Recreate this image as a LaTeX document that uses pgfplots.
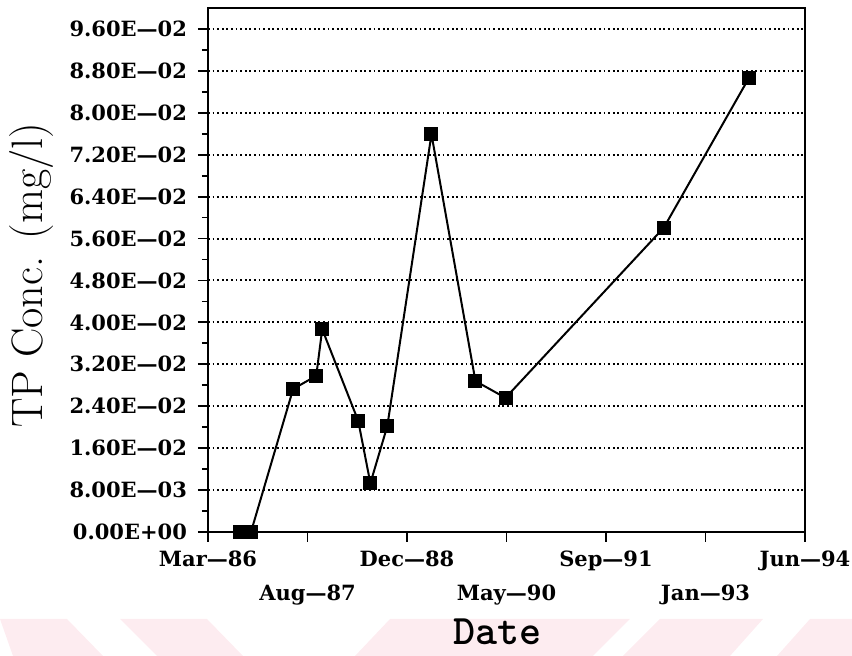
\documentclass[border=0pt]{standalone}
\usepackage{pgfplots}
\pgfplotsset{compat=1.18}
\usepackage{fontspec}
\newfontfamily\tickfont{DejaVu Serif}
\definecolor{bandpink}{RGB}{253,236,240}

% TP concentration; x = days after the Mar-86 axis origin
\begin{document}
\begin{tikzpicture}
% faint striped band along the foot of the figure
\fill[bandpink] (-104pt,-43.5pt) -- (-70.5pt,-43.5pt) -- (-52.5pt,-62pt) -- (-97.5pt,-62pt) -- cycle;
\fill[bandpink] (-44pt,-43.5pt) -- (-0.5pt,-43.5pt) -- (17.5pt,-62pt) -- (-25.5pt,-62pt) -- cycle;
\fill[bandpink] (91pt,-43.5pt) -- (211pt,-43.5pt) -- (192.5pt,-62pt) -- (73.5pt,-62pt) -- cycle;
\fill[bandpink] (226pt,-43.5pt) -- (277.5pt,-43.5pt) -- (261pt,-62pt) -- (207.5pt,-62pt) -- cycle;
\fill[bandpink] (301pt,-43.5pt) -- (322pt,-43.5pt) -- (322pt,-62pt) -- (284.5pt,-62pt) -- cycle;
\begin{axis}[
  scale only axis,
  width=298.5pt, height=262pt,
  xmin=0, xmax=3000,
  ymin=0, ymax=0.1,
  xtick={0,500,1000,1500,2000,2500,3000},
  xticklabels={Mar\textemdash86, \strut\\Aug\textemdash87, Dec\textemdash88,
               \strut\\May\textemdash90, Sep\textemdash91, \strut\\Jan\textemdash93,
               Jun\textemdash94},
  ytick={0,0.008,...,0.097},
  yticklabels={0.00E+00, 8.00E\textemdash03, 1.60E\textemdash02, 2.40E\textemdash02,
               3.20E\textemdash02, 4.00E\textemdash02, 4.80E\textemdash02, 5.60E\textemdash02,
               6.40E\textemdash02, 7.20E\textemdash02, 8.00E\textemdash02, 8.80E\textemdash02,
               9.60E\textemdash02},
  minor y tick num=1,
  xtick pos=bottom, ytick pos=left,
  tick align=outside,
  major tick length=5pt, minor tick length=3pt,
  every tick/.style={black, line width=0.9pt},
  axis line style={line width=1pt},
  ymajorgrids,
  major grid style={black, line width=1pt, dash pattern=on 0.9pt off 1.4pt},
  x tick label style={font=\tickfont\bfseries\fontsize{10.5}{14.5}\selectfont, align=center, anchor=north, yshift=-1pt},
  y tick label style={font=\tickfont\bfseries\fontsize{10.5}{12}\selectfont, xshift=-2pt},
  xlabel={Date},
  xlabel style={font=\ttfamily\bfseries\fontsize{21}{24}\selectfont, at={(axis description cs:0.485,-0.19)}, anchor=center},
  ylabel={TP Conc. (mg/l)},
  ylabel style={font=\fontsize{22}{26}\selectfont, at={(axis description cs:-0.295,0.49)}, anchor=center},
  clip=false,
]
\addplot[black, line width=1pt, mark=square*, mark size=3pt,
         mark options={solid, fill=black}]
  coordinates {
    (161,0) (216,0) (428,0.0273) (544,0.0298) (574,0.0387)
    (755,0.0212) (816,0.0093) (901,0.0202) (1123,0.0759)
    (1344,0.0288) (1495,0.0256) (2291,0.0581) (2719,0.0867)
  };
\end{axis}
\pgfresetboundingbox
\path (-104pt,-62pt) rectangle (322pt,266pt);
\end{tikzpicture}
\end{document}
